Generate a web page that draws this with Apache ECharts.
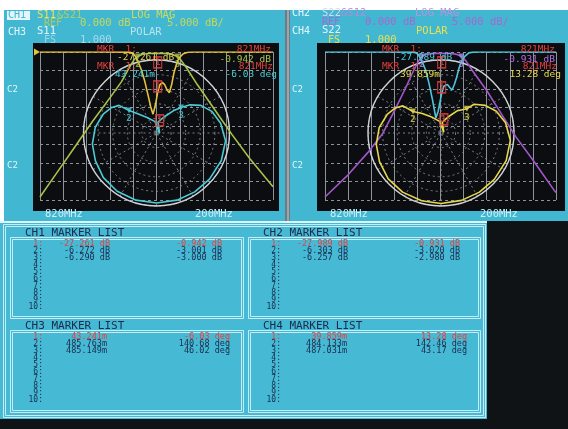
<!DOCTYPE html>
<html>
<head>
<meta charset="utf-8">
<script src="https://cdn.jsdelivr.net/npm/echarts@6/dist/echarts.min.js"></script>
<style>
  html, body { margin: 0; padding: 0; background: #ffffff; }
  #main { width: 568px; height: 429px; }
</style>
</head>
<body>
<div id="main"></div>
<script>
// ---------- sweep settings ----------
const sweepStart = 720, sweepStop = 920, sweepStep = 20;   // MHz
const centreText = '820MHz', spanText = '200MHz';
const dbTop = 0, dbBottom = -100, dbStep = 12.5;

// ---------- marker readings ----------
const markerFreq = [821, 804, 838];                 // MHz, markers 1..3
const ch1S11Mk = [-27.261, -6.272, -6.290];          // dB
const ch1S21Mk = [-0.942, -3.001, -3.000];           // dB
const ch2S22Mk = [-27.989, -6.303, -6.257];          // dB
const ch2S12Mk = [-0.931, -3.020, -2.980];           // dB
const ch3MagMk = [43.241, 485.763, 485.149];         // milli-units
const ch3PhaseMk = [-6.03, 140.68, 46.02];           // deg
const ch4MagMk = [39.859, 484.133, 487.031];         // milli-units
const ch4PhaseMk = [13.28, 142.46, 43.17];           // deg

// ---------- log magnitude traces [MHz, dB] ----------
const ch1S11 = [[720,0],[780,0],[795,-0.1],[798,-0.4],[800,-1],[802,-3],[807,-12],[810,-20],[813,-30],[815,-37],[817,-42],[819,-36],[823,-22],[825,-20.5],[827,-22],[829,-25.5],[831,-27.5],[833,-22],[835,-14],[836.5,-10],[840,-3.5],[843,-1.2],[847,-0.2],[852,0],[920,0]];
const ch1S21 = [[720,-98],[735,-81],[750,-64],[765,-47],[780,-31],[790,-20],[797,-10],[801,-5],[808,-1.5],[813,-1],[817,-0.9],[825,-0.9],[830,-1.1],[834,-1.8],[841,-5.5],[846,-11],[855,-22],[870,-39],[885,-56],[900,-72],[920,-91]];
const ch2S22 = [[720,0],[780,0],[796,-0.1],[799,-0.6],[801,-2],[807,-12],[810,-21],[813,-32],[816,-44.6],[818,-40],[820,-32],[823,-23],[826,-22],[828,-24],[830,-25.7],[832,-22],[834,-17],[836,-11],[841,-3],[844.5,-0.6],[848,-0.1],[853,0],[920,0]];
const ch2S12 = [[720,-98],[740,-83],[757,-68],[770,-55],[780,-40],[790,-24],[797,-12],[801,-6],[808,-1.5],[814,-0.9],[828,-0.9],[834,-1.6],[842,-6],[848,-13],[860,-26],[872,-41],[885,-57],[900,-73],[918,-93],[920,-95]];

// ---------- polar traces [magnitude, deg], split around the markers ----------
const ch3Low  = [[0.96,-90],[0.962,-107],[0.963,-124],[0.95,-140],[0.919,-155.7],[0.891,-170.4],[0.842,174.5],[0.774,160.6],[0.711,151.0],[0.638,143.6]];
const ch3MidA = [[0.368,134.3],[0.242,120.1],[0.157,97.4]];
const ch3MidB = [[0.150,82.2],[0.248,64.1],[0.381,52.9]];
const ch3High = [[0.600,40.0],[0.716,31.9],[0.813,21.4],[0.889,8.7],[0.952,-6.5],[0.965,-23],[0.962,-41],[0.962,-57],[0.962,-73],[0.96,-90]];
const ch4Low  = [[0.965,-90],[0.965,-106],[0.966,-123],[0.958,-139],[0.93,-155],[0.90,-170],[0.85,175],[0.78,161],[0.715,151.5],[0.64,144.5]];
const ch4MidA = [[0.37,134],[0.245,119],[0.16,97]];
const ch4MidB = [[0.15,83],[0.25,65],[0.38,53.5]];
const ch4High = [[0.60,41],[0.715,32],[0.815,21.5],[0.895,9],[0.955,-6],[0.97,-23],[0.968,-41],[0.966,-57],[0.965,-73],[0.965,-90]];

// ---------- colours ----------
const C = {
  panel: '#42b7d2', panelLow: '#46bad5', screen: '#0b0d10', black: '#101316',
  grid: '#8e939a', polarGrid: '#7a8086', circle: '#cfd2d6', frame: '#c4edf6',
  s11: '#e4c23c', s21: '#a9c24a', cyanTr: '#4ccbd6', s22: '#4cc6d8', s12: '#a257c9', ylwTr: '#e6d84a',
  red: '#e5413d', ink: '#1b2b4b', pale: '#cdeff8'
};
const FONT = '"DejaVu Sans Mono", "Liberation Mono", monospace';

function withMarkers(trace, values) {
  return trace.concat(markerFreq.map((f, i) => [f, values[i]])).sort((a, b) => a[0] - b[0]);
}
function polarPath(low, midA, midB, high, mags, phases) {
  const mk = i => [mags[i] / 1000, phases[i]];
  return [].concat(low, [mk(1)], midA, [mk(0)], midB, [mk(2)], high);
}
const fmtDb = v => v.toFixed(3) + ' dB';
const fmtMag = v => v.toFixed(3) + 'm';
const fmtDeg = v => v.toFixed(2) + ' deg';
const fmtMHz = f => f + 'MHz';

// ---------- drawing helpers ----------
function T(x, y, text, fill, size, align, z) {
  return { type: 'text', x: x, y: y, z: z || 50, silent: true,
    style: { text: text, fill: fill, font: size + 'px ' + FONT, align: align || 'left', verticalAlign: 'middle' } };
}
function R(x, y, w, h, fill, z) {
  return { type: 'rect', z: z || -20, silent: true, shape: { x: x, y: y, width: w, height: h }, style: { fill: fill } };
}
function Box(x, y, w, h, stroke) {
  return { type: 'rect', z: 5, silent: true, shape: { x: x + 0.5, y: y + 0.5, width: w, height: h },
    style: { fill: 'none', stroke: stroke, lineWidth: 1 } };
}

// marker list panel
function listBox(x0, y0, w, h, title, col1, col2, c1Right, c2Right) {
  const els = [Box(x0, y0, w, h, C.frame), Box(x0 + 2, y0 + 2, w - 4, h - 4, C.frame)];
  els.push(T(x0 + 15, y0 - 4, title, C.ink, 11));
  for (let i = 0; i < 10; i++) {
    const y = y0 + 7 + i * 7.0;
    const col = i === 0 ? C.red : C.ink;
    els.push(T(x0 + 33, y, (i + 1) + ':', col, 8, 'right'));
    if (i < col1.length) {
      els.push(T(x0 + c1Right, y, col1[i], col, 8.5, 'right'));
      els.push(T(x0 + c2Right, y, col2[i], col, 8.5, 'right'));
    }
  }
  return els;
}

// ---------- static layout ----------
const graphics = [
  R(0, 0, 568, 429, '#ffffff', -40),
  R(4, 10, 281, 211, C.panel),
  R(285, 10, 5, 211, '#6f7a82'),
  R(287, 10, 2, 211, '#9aa7ae', -19),
  R(290, 10, 278, 211, C.panel),
  R(0, 221, 568, 2, '#dff3f8'),
  R(0, 223, 487, 196, C.panelLow),
  R(487, 221, 81, 208, C.black, -19),
  R(0, 419, 568, 10, C.black, -19),
  R(33, 43, 246, 168, C.screen),
  R(317, 43, 248, 168, C.screen),
  Box(3, 224, 482, 193, C.frame), Box(5, 226, 478, 189, C.frame),
  // reference position marker
  { type: 'polygon', z: 6, silent: true, shape: { points: [[34, 48.5], [40, 52], [34, 55.5]] }, style: { fill: C.s11 } },

  // left header
  R(7, 11, 23, 9, '#e4f6fb', 10),
  T(8, 15.5, 'CH1', C.panel, 10),
  T(37, 15, 'S11', '#e8e35a', 10.5), T(57, 15, '&S21', '#a9cf6a', 10.5),
  T(131, 15, 'LOG MAG', '#c9db5e', 10.5),
  T(44, 23, 'REF', '#a9cc62', 10), T(80, 23, '0.000 dB', '#c4d85a', 10.5), T(167, 23, '5.000 dB/', '#c4d85a', 10.5),
  T(8, 32, 'CH3', '#e6f7fc', 10), T(37, 31, 'S11', '#e6f7fc', 10.5), T(130, 32, 'POLAR', '#b9e3ee', 10.5),
  T(44, 40, 'FS', '#9ed6e6', 10), T(80, 40, '1.000', '#a6dbe9', 10.5),
  T(7, 90, 'C2', '#e2f5fa', 9), T(7, 166, 'C2', '#e2f5fa', 9),
  T(45, 214, centreText, C.pale, 10.5), T(195, 214, spanText, C.pale, 10.5),

  // right header
  T(292, 13, 'CH2', '#e6f7fc', 10),
  T(322, 13, 'S22', '#cfd9ef', 10.5), T(341, 13, '&S12', '#b48ad8', 10.5),
  T(415, 13, 'LOG MAG', '#b894dc', 10.5),
  T(322, 22, 'REF', '#a866cf', 10), T(365, 22, '0.000 dB', '#a866cf', 10.5), T(452, 22, '5.000 dB/', '#a866cf', 10.5),
  T(292, 31, 'CH4', '#e6f7fc', 10), T(322, 30, 'S22', '#e6f7fc', 10.5), T(416, 31, 'POLAR', '#e8e050', 10.5),
  T(328, 40, 'FS', '#e8e050', 10), T(365, 40, '1.000', '#e8e050', 10.5),
  T(292, 90, 'C2', '#e2f5fa', 9), T(292, 166, 'C2', '#e2f5fa', 9),
  T(330, 214, centreText, C.pale, 10.5), T(480, 214, spanText, C.pale, 10.5),

  // left marker readout
  T(97, 50, 'MKR  1:', C.red, 9.5), T(271, 50, fmtMHz(markerFreq[0]), C.red, 9.5, 'right'),
  T(117, 57.5, fmtDb(ch1S11Mk[0]), '#dccf56', 9.5), T(271, 59.5, fmtDb(ch1S21Mk[0]), C.s21, 9.5, 'right'),
  T(97, 67, 'MKR  1:', C.red, 9.5), T(273, 67, fmtMHz(markerFreq[0]), C.red, 9.5, 'right'),
  T(115, 75, fmtMag(ch3MagMk[0]), C.cyanTr, 9.5), T(277, 75, fmtDeg(ch3PhaseMk[0]), C.cyanTr, 9.5, 'right'),

  // right marker readout
  T(382, 50, 'MKR  1:', C.red, 9.5), T(555, 50, fmtMHz(markerFreq[0]), C.red, 9.5, 'right'),
  T(395, 57.5, fmtDb(ch2S22Mk[0]), C.s22, 9.5), T(555, 59.5, fmtDb(ch2S12Mk[0]), '#b46ee0', 9.5, 'right'),
  T(382, 67, 'MKR  1:', C.red, 9.5), T(557, 67, fmtMHz(markerFreq[0]), C.red, 9.5, 'right'),
  T(400, 75, fmtMag(ch4MagMk[0]), C.ylwTr, 9.5), T(561, 75, fmtDeg(ch4PhaseMk[0]), C.ylwTr, 9.5, 'right')
];

graphics.push.apply(graphics, listBox(10, 237, 233, 81, 'CH1 MARKER LIST', ch1S11Mk.map(fmtDb), ch1S21Mk.map(fmtDb), 100, 212));
graphics.push.apply(graphics, listBox(248, 237, 232, 81, 'CH2 MARKER LIST', ch2S22Mk.map(fmtDb), ch2S12Mk.map(fmtDb), 100, 212));
graphics.push.apply(graphics, listBox(10, 330, 233, 82, 'CH3 MARKER LIST', ch3MagMk.map(fmtMag), ch3PhaseMk.map(fmtDeg), 97, 220));
graphics.push.apply(graphics, listBox(248, 330, 232, 82, 'CH4 MARKER LIST', ch4MagMk.map(fmtMag), ch4PhaseMk.map(fmtDeg), 99, 219));

// ---------- axes ----------
const hidden = { axisLine: { show: false }, axisTick: { show: false }, axisLabel: { show: false } };
function freqAxis(g) {
  return Object.assign({ gridIndex: g, type: 'value', min: sweepStart, max: sweepStop, interval: sweepStep,
    splitLine: { show: true, lineStyle: { color: C.grid, width: 1 } } }, hidden);
}
function dbAxis(g) {
  return Object.assign({ gridIndex: g, type: 'value', min: dbBottom, max: dbTop, interval: dbStep,
    splitLine: { show: true, lineStyle: { color: C.grid, width: 1, type: [3, 3] } } }, hidden);
}
function radAxis(p) {
  return Object.assign({ polarIndex: p, type: 'value', min: 0, max: 1, interval: 0.2,
    splitLine: { show: true, lineStyle: { color: C.polarGrid, type: [2, 3] } } }, hidden);
}
function angAxis(p) {
  return { polarIndex: p, type: 'value', min: -180, max: 180, interval: 30, startAngle: 180, clockwise: false,
    axisLine: { show: true, lineStyle: { color: C.circle, width: 1.4 } }, axisTick: { show: false }, axisLabel: { show: false },
    splitLine: { show: true, lineStyle: { color: C.polarGrid, type: [2, 3] } } };
}

// ---------- series helpers ----------
function trace(data, color, extra) {
  return Object.assign({ type: 'line', data: data, symbol: 'none', smooth: false, silent: true,
    lineStyle: { color: color, width: 1.6 }, z: 3 }, extra);
}
function subMarkers(data, color, extra) {
  return Object.assign({ type: 'scatter', data: data, symbol: 'triangle', symbolRotate: 180, symbolSize: 6, silent: true,
    itemStyle: { color: color }, z: 6,
    label: { show: true, position: 'bottom', distance: 1, color: color, fontSize: 9, fontFamily: FONT, fontWeight: 'bold',
      formatter: p => String(p.dataIndex + 2) } }, extra);
}
function activeMarker(data, offset, extra) {
  return Object.assign({ type: 'scatter', data: data, symbol: 'rect', symbolSize: [8, 11], symbolOffset: offset, silent: true,
    itemStyle: { color: 'rgba(0,0,0,0)', borderColor: C.red, borderWidth: 1.4 }, z: 7,
    label: { show: true, position: 'inside', color: C.red, fontSize: 9, fontFamily: FONT, fontWeight: 'bold', formatter: '1' } }, extra);
}
const g0 = { xAxisIndex: 0, yAxisIndex: 0 }, g1 = { xAxisIndex: 1, yAxisIndex: 1 };
const p0 = { coordinateSystem: 'polar', polarIndex: 0 }, p1 = { coordinateSystem: 'polar', polarIndex: 1 };
const mkPair = (vals) => [[markerFreq[1], vals[1]], [markerFreq[2], vals[2]]];
const pPair = (mags, ph) => [[mags[1] / 1000, ph[1]], [mags[2] / 1000, ph[2]]];

const option = {
  animation: false,
  backgroundColor: 'transparent',
  graphic: { elements: graphics },
  grid: [
    { left: 40, top: 52, width: 233, height: 148 },
    { left: 325, top: 52, width: 231, height: 148 }
  ],
  xAxis: [freqAxis(0), freqAxis(1)],
  yAxis: [dbAxis(0), dbAxis(1)],
  polar: [
    { center: [156.5, 133], radius: 73 },
    { center: [441, 133], radius: 73 }
  ],
  radiusAxis: [radAxis(0), radAxis(1)],
  angleAxis: [angAxis(0), angAxis(1)],
  series: [
    trace(withMarkers(ch1S21, ch1S21Mk), C.s21, g0),
    trace(withMarkers(ch1S11, ch1S11Mk), C.s11, g0),
    trace(polarPath(ch3Low, ch3MidA, ch3MidB, ch3High, ch3MagMk, ch3PhaseMk), C.cyanTr, p0),
    trace(withMarkers(ch2S12, ch2S12Mk), C.s12, g1),
    trace(withMarkers(ch2S22, ch2S22Mk), C.s22, g1),
    trace(polarPath(ch4Low, ch4MidA, ch4MidB, ch4High, ch4MagMk, ch4PhaseMk), C.ylwTr, p1),

    subMarkers(mkPair(ch1S21Mk), C.s21, g0),
    subMarkers(pPair(ch3MagMk, ch3PhaseMk), C.cyanTr, p0),
    subMarkers(mkPair(ch2S12Mk), '#a98be8', g1),
    subMarkers(pPair(ch4MagMk, ch4PhaseMk), C.ylwTr, p1),

    activeMarker([[markerFreq[0], ch1S21Mk[0]]], [0, 9], g0),
    activeMarker([[markerFreq[0], ch1S11Mk[0]]], [0, -6], g0),
    activeMarker([[ch3MagMk[0] / 1000, ch3PhaseMk[0]]], [0, -13], p0),
    activeMarker([[markerFreq[0], ch2S12Mk[0]]], [0, 9], g1),
    activeMarker([[markerFreq[0], ch2S22Mk[0]]], [0, -6], g1),
    activeMarker([[ch4MagMk[0] / 1000, ch4PhaseMk[0]]], [0, -13], p1)
  ]
};

const chart = echarts.init(document.getElementById('main'), null, { renderer: 'canvas', width: 568, height: 429 });
chart.setOption(option);
</script>
</body>
</html>
